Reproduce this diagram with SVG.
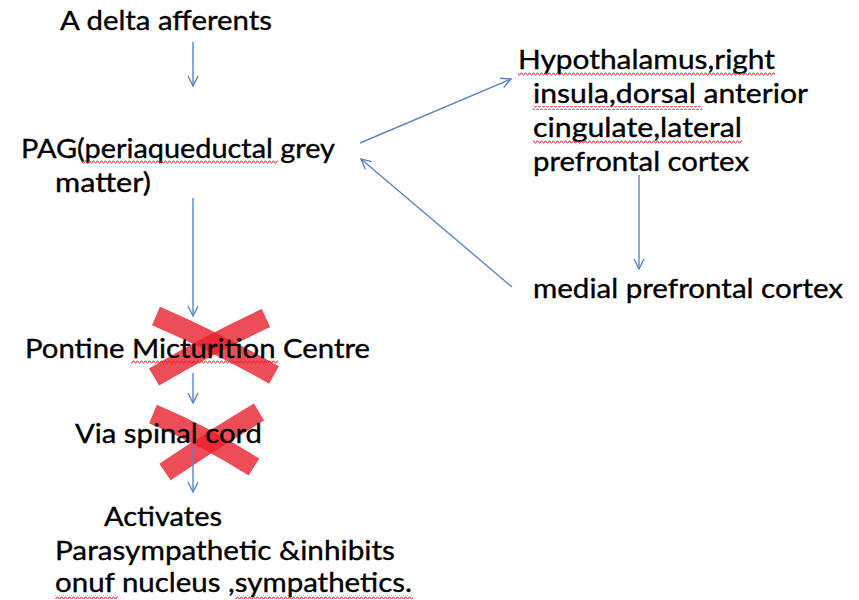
<svg xmlns="http://www.w3.org/2000/svg" width="859" height="600" viewBox="0 0 859 600">
<style>
.t{font-family:Lato,"Liberation Sans",sans-serif;font-size:27.5px;fill:#000;stroke:#000;stroke-width:0.35}
.c{stroke:#5b86c2;stroke-width:1.4;fill:none}
.x{stroke:#e8202c;stroke-opacity:0.8;stroke-width:20;fill:none;stroke-linecap:butt}
.w{fill:url(#wave)}
</style>
<defs>
<marker id="ah" markerUnits="userSpaceOnUse" markerWidth="12" markerHeight="12" viewBox="0 0 12 12" refX="11" refY="6" orient="auto">
<path d="M1,1 L11,6 L1,11" fill="none" stroke="#5b86c2" stroke-width="1.4"/>
</marker>
<pattern id="wave" patternUnits="userSpaceOnUse" width="4" height="4">
<path d="M0,3 L1,1 L2,1 L3,3 L4,3" fill="none" stroke="#e0262c" stroke-width="0.9"/>
</pattern>
</defs>
<rect width="859" height="600" fill="#fff"/>
<g id="cross1">
<path class="x" d="M156,316 Q216,342 274,375"/>
<path class="x" d="M266,318 Q210,344 154,377"/>
</g>
<g id="cross2">
<path class="x" d="M153,414 Q205,436 254,467"/>
<path class="x" d="M259,412 Q212,440 165,472"/>
</g>
<g id="connectors">
<line class="c" x1="193" y1="42" x2="193" y2="86" marker-end="url(#ah)"/>
<line class="c" x1="193" y1="198" x2="193" y2="316" marker-end="url(#ah)"/>
<line class="c" x1="193" y1="373" x2="193" y2="403" marker-end="url(#ah)"/>
<line class="c" x1="193" y1="446" x2="193" y2="492" marker-end="url(#ah)"/>
<line class="c" x1="360" y1="143" x2="511" y2="79" marker-end="url(#ah)"/>
<line class="c" x1="512" y1="287" x2="361" y2="159" marker-end="url(#ah)"/>
<line class="c" x1="639" y1="175" x2="639" y2="269" marker-end="url(#ah)"/>
</g>
<g id="n-adelta">
<text class="t" x="60" y="30" textLength="212" lengthAdjust="spacingAndGlyphs">A delta afferents</text>
</g>
<g id="n-pag">
<text class="t" x="21" y="158" textLength="314" lengthAdjust="spacingAndGlyphs">PAG(periaqueductal grey</text>
<text class="t" x="55" y="192" textLength="96" lengthAdjust="spacingAndGlyphs">matter)</text>
<rect class="w" x="81" y="160" width="197" height="4"/>
</g>
<g id="n-pmc">
<text class="t" x="25" y="358" textLength="345" lengthAdjust="spacingAndGlyphs">Pontine Micturition Centre</text>
<rect class="w" x="131" y="360" width="147" height="4"/>
</g>
<g id="n-spinal">
<text class="t" x="75" y="443" textLength="187" lengthAdjust="spacingAndGlyphs">Via spinal cord</text>
</g>
<g id="n-activates">
<text class="t" x="104" y="526" textLength="118" lengthAdjust="spacingAndGlyphs">Activates</text>
<text class="t" x="55" y="560" textLength="340" lengthAdjust="spacingAndGlyphs">Parasympathetic &amp;inhibits</text>
<text class="t" x="55" y="592" textLength="357" lengthAdjust="spacingAndGlyphs">onuf nucleus ,sympathetics.</text>
<rect class="w" x="55" y="595" width="63" height="4"/>
<rect class="w" x="235" y="595" width="178" height="4"/>
</g>
<g id="n-hypo">
<text class="t" x="518" y="69" textLength="257" lengthAdjust="spacingAndGlyphs">Hypothalamus,right</text>
<text class="t" x="533" y="103" textLength="275" lengthAdjust="spacingAndGlyphs">insula,dorsal anterior</text>
<text class="t" x="533" y="137" textLength="209" lengthAdjust="spacingAndGlyphs">cingulate,lateral</text>
<text class="t" x="533" y="171" textLength="216" lengthAdjust="spacingAndGlyphs">prefrontal cortex</text>
<rect class="w" x="518" y="72" width="257" height="4"/>
<rect class="w" x="533" y="106" width="169" height="4"/>
<rect class="w" x="533" y="140" width="209" height="4"/>
</g>
<g id="n-medial">
<text class="t" x="533" y="298" textLength="310" lengthAdjust="spacingAndGlyphs">medial prefrontal cortex</text>
</g>
</svg>
